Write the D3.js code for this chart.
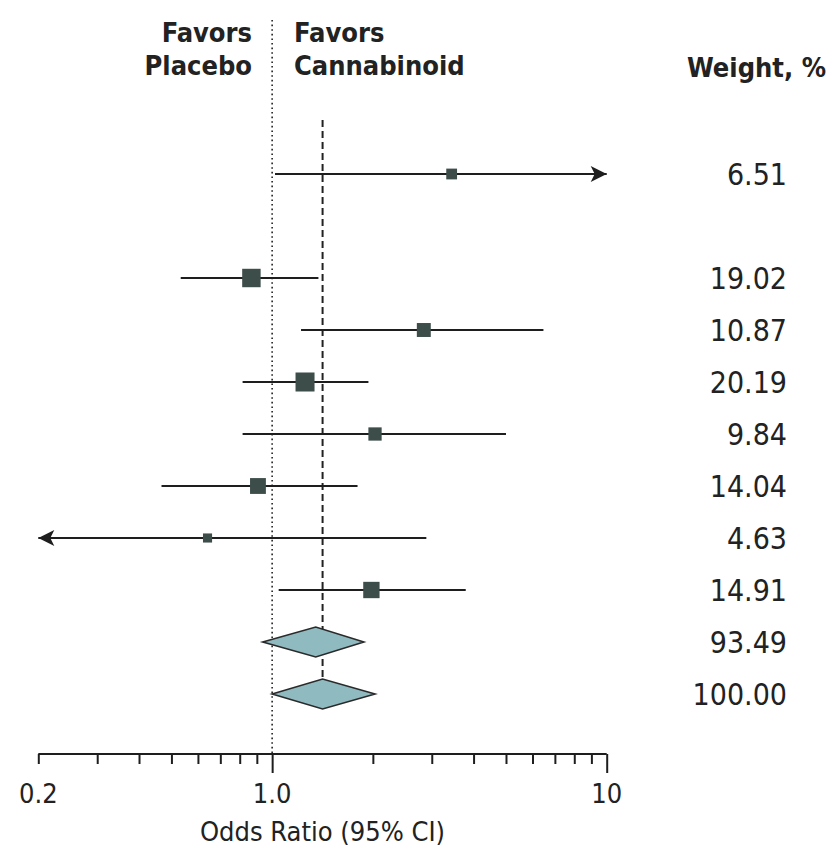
<!DOCTYPE html>
<head>
    <meta charset="utf-8">
    <script src="https://d3js.org/d3.v7.min.js"></script>
    <style>
        body {
            margin: 0;
            background: #ffffff;
            font-family: "DejaVu Sans Condensed", "DejaVu Sans", sans-serif;
            font-stretch: condensed;
        }

        text.header {
            font-size: 27px;
            font-weight: bold;
            fill: #222222;
        }

        text.weight {
            font-size: 30px;
            fill: #222222;
        }

        text.tickLabel {
            font-size: 27px;
            fill: #222222;
        }

        text.axisTitle {
            font-size: 27px;
            fill: #222222;
        }
    </style>
</head>

<body>
    <div id="forest"></div>
    <script>
        // study rows (null = empty subgroup row), then subtotal and overall
        const oddsRatio = [3.44, null, 0.867, 2.84, 1.254, 2.03, 0.907, 0.641, 1.98];
        const ciLower = [1.02, null, 0.533, 1.22, 0.816, 0.816, 0.467, 0.15, 1.046];
        const ciUpper = [11.5, null, 1.375, 6.47, 1.94, 5.0, 1.80, 2.89, 3.79];
        const weights = ['6.51', null, '19.02', '10.87', '20.19', '9.84', '14.04', '4.63', '14.91'];

        const pooledOR = [1.35, 1.415];
        const pooledLower = [0.937, 1.0];
        const pooledUpper = [1.88, 2.03];
        const pooledWeights = ['93.49', '100.00'];

        const tickValues = [0.2, 0.3, 0.4, 0.5, 0.6, 0.7, 0.8, 0.9, 1, 2, 3, 4, 5, 6, 7, 8, 9, 10];
        const tickLabels = {0.2: '0.2', 1: '1.0', 10: '10'};

        const width = 829,
            height = 851;

        const svg = d3.select('#forest').append('svg')
            .attr('width', width)
            .attr('height', height);

        let x = d3.scaleLog()
            .domain([0.2, 10])
            .range([38.3, 606.7]);

        let y = d3.scaleLinear()
            .domain([0, 10])
            .range([174, 694]);

        let size = d3.scaleSqrt()
            .domain([0, 20.19])
            .range([0, 19]);

        const axisY = 754;
        const overall = pooledOR[1];

        // reference line at OR = 1
        svg.append('line')
            .attr('x1', x(1)).attr('x2', x(1))
            .attr('y1', 20).attr('y2', axisY)
            .style('stroke', '#222')
            .style('stroke-width', 1.6)
            .style('stroke-dasharray', '1.6,3');

        // dashed line at overall estimate
        svg.append('line')
            .attr('x1', x(overall)).attr('x2', x(overall))
            .attr('y1', 120).attr('y2', y(10))
            .style('stroke', '#222')
            .style('stroke-width', 2)
            .style('stroke-dasharray', '7,4');

        let studies = oddsRatio.map((d, i) => ({
            or: d,
            lo: ciLower[i],
            hi: ciUpper[i],
            w: weights[i],
            row: i
        })).filter(d => d.or !== null);

        const [xmin, xmax] = x.domain();

        // CI lines, clipped to the axis range
        svg.selectAll('line.ci')
            .data(studies)
            .enter()
            .append('line')
            .attr('class', 'ci')
            .attr('x1', d => x(Math.max(d.lo, xmin)))
            .attr('x2', d => x(Math.min(d.hi, xmax)))
            .attr('y1', d => y(d.row))
            .attr('y2', d => y(d.row))
            .style('stroke', '#1e1e1e')
            .style('stroke-width', 2);

        // arrow heads where the CI runs off the scale
        svg.selectAll('path.arrow')
            .data(studies.filter(d => d.hi > xmax || d.lo < xmin))
            .enter()
            .append('path')
            .attr('class', 'arrow')
            .attr('d', d => {
                let yy = y(d.row);
                if (d.hi > xmax) {
                    let xe = x(xmax);
                    return `M${xe},${yy} L${xe - 16},${yy - 8} L${xe - 12},${yy} L${xe - 16},${yy + 8} Z`;
                }
                let xs = x(xmin);
                return `M${xs},${yy} L${xs + 16},${yy - 8} L${xs + 12},${yy} L${xs + 16},${yy + 8} Z`;
            })
            .style('fill', '#1e1e1e');

        // study squares sized by weight
        svg.selectAll('rect.study')
            .data(studies)
            .enter()
            .append('rect')
            .attr('class', 'study')
            .attr('x', d => x(d.or) - size(+d.w) / 2)
            .attr('y', d => y(d.row) - size(+d.w) / 2)
            .attr('width', d => size(+d.w))
            .attr('height', d => size(+d.w))
            .style('fill', '#3d4d4a');

        let pooled = pooledOR.map((d, i) => ({
            or: d,
            lo: pooledLower[i],
            hi: pooledUpper[i],
            w: pooledWeights[i],
            row: 9 + i
        }));

        svg.selectAll('path.diamond')
            .data(pooled)
            .enter()
            .append('path')
            .attr('class', 'diamond')
            .attr('d', d => {
                let yy = y(d.row);
                return `M${x(d.lo)},${yy} L${x(d.or)},${yy - 15} L${x(d.hi)},${yy} L${x(d.or)},${yy + 15} Z`;
            })
            .style('fill', '#8fbac0')
            .style('stroke', '#2a2a2a')
            .style('stroke-width', 1.6);

        // weight column
        svg.selectAll('text.weight')
            .data(studies.concat(pooled))
            .enter()
            .append('text')
            .attr('class', 'weight')
            .attr('x', 787)
            .attr('y', d => y(d.row) + 11)
            .style('text-anchor', 'end')
            .text(d => d.w);

        // headers
        svg.append('text').attr('class', 'header')
            .attr('x', 252).attr('y', 42)
            .style('text-anchor', 'end').text('Favors');
        svg.append('text').attr('class', 'header')
            .attr('x', 252).attr('y', 75)
            .style('text-anchor', 'end').text('Placebo');
        svg.append('text').attr('class', 'header')
            .attr('x', 294).attr('y', 42)
            .text('Favors');
        svg.append('text').attr('class', 'header')
            .attr('x', 294).attr('y', 75)
            .text('Cannabinoid');
        svg.append('text').attr('class', 'header')
            .attr('x', 826).attr('y', 77)
            .style('text-anchor', 'end').text('Weight, %');

        // log axis
        let xAxis = d3.axisBottom(x)
            .tickValues(tickValues)
            .tickSize(10)
            .tickFormat('');

        let axisG = svg.append('g')
            .attr('class', 'xAxis')
            .attr('transform', `translate(0, ${axisY})`)
            .call(xAxis);

        axisG.select('path.domain')
            .attr('d', `M${x(xmin)},0H${x(xmax)}`)
            .style('stroke', '#1e1e1e')
            .style('stroke-width', 2);

        axisG.selectAll('.tick line')
            .attr('y2', d => (d === 1 || d === 10) ? 19 : 10)
            .style('stroke', '#1e1e1e')
            .style('stroke-width', 2);

        svg.selectAll('text.tickLabel')
            .data(Object.keys(tickLabels).map(Number))
            .enter()
            .append('text')
            .attr('class', 'tickLabel')
            .attr('x', d => x(d))
            .attr('y', 803)
            .style('text-anchor', 'middle')
            .text(d => tickLabels[d]);

        svg.append('text')
            .attr('class', 'axisTitle')
            .attr('x', (x(xmin) + x(xmax)) / 2)
            .attr('y', 841)
            .style('text-anchor', 'middle')
            .text('Odds Ratio (95% CI)');
    </script>
</body>
